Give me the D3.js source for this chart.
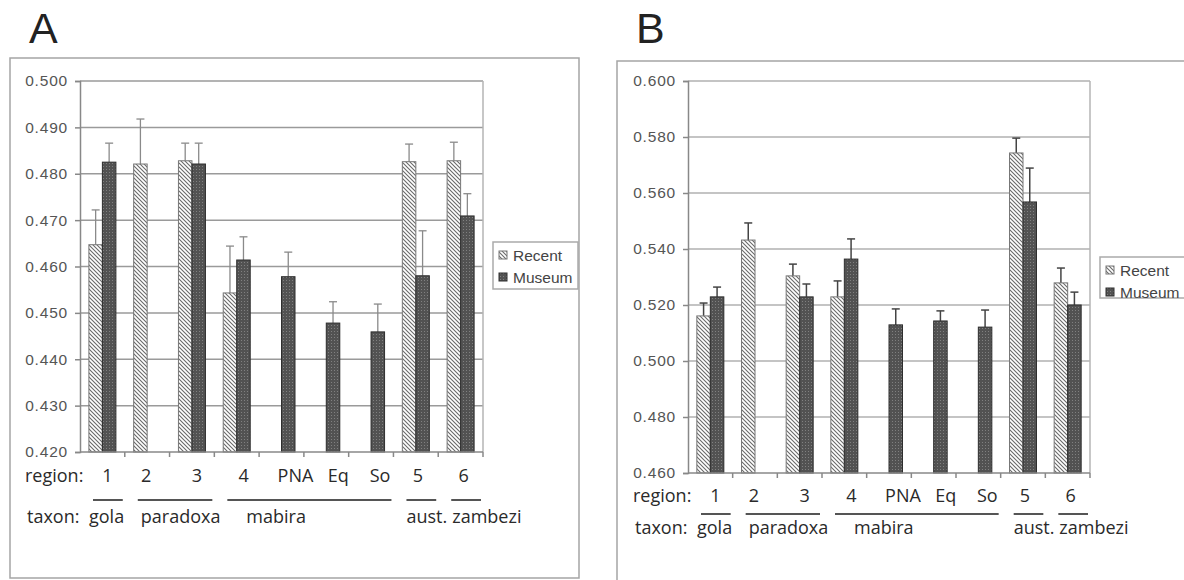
<!DOCTYPE html>
<html>
<head>
<meta charset="utf-8">
<script src="https://cdn.jsdelivr.net/npm/d3@7"></script>
<style>
  body { margin: 0; background: #fff; }
  svg { display: block; }
</style>
</head>
<body>
<svg id="fig" width="1184" height="580"></svg>
<script>
// ---- data ----
const categories = ["1", "2", "3", "4", "PNA", "Eq", "So", "5", "6"]
const series = ["Recent", "Museum"]
const taxa = [
  {name: "gola", from: "1", to: "1"},
  {name: "paradoxa", from: "2", to: "3"},
  {name: "mabira", from: "4", to: "So"},
  {name: "aust.", from: "5", to: "5"},
  {name: "zambezi", from: "6", to: "6"}
]

// panel A
const yTicksA = [0.420, 0.430, 0.440, 0.450, 0.460, 0.470, 0.480, 0.490, 0.500]
const recentA    = [0.4647, 0.4821, 0.4828, 0.4543, null, null, null, 0.4826, 0.4828]
const recentErrA = [0.0075, 0.0097, 0.0038, 0.0101, null, null, null, 0.0038, 0.0040]
const museumA    = [0.4825, null, 0.4821, 0.4614, 0.4578, 0.4478, 0.4459, 0.4580, 0.4709]
const museumErrA = [0.0041, null, 0.0045, 0.0050, 0.0053, 0.0046, 0.0060, 0.0097, 0.0048]

// panel B
const yTicksB = [0.460, 0.480, 0.500, 0.520, 0.540, 0.560, 0.580, 0.600]
const recentB    = [0.5161, 0.5432, 0.5304, 0.5229, null, null, null, 0.5743, 0.5279]
const recentErrB = [0.0046, 0.0061, 0.0042, 0.0057, null, null, null, 0.0053, 0.0053]
const museumB    = [0.5229, null, 0.5229, 0.5364, 0.5129, 0.5143, 0.5121, 0.5568, 0.5200]
const museumErrB = [0.0035, null, 0.0046, 0.0072, 0.0057, 0.0036, 0.0061, 0.0121, 0.0046]

// ---- layout ----
const LABEL_FONT = "'Open Sans', 'Noto Sans', sans-serif"
const AXIS_FONT = "'Liberation Sans', Arial, sans-serif"
const regionNudge = [5, -1, 5, 7, 14, 12, 9, 2, 3]   // hand-placed labels in the figure
const taxonNudge = {gola: 0, paradoxa: 7, mabira: 23, "aust.": 4, zambezi: 5}

const svg = d3.select("#fig")
const defs = svg.append("defs")

// hatched fill for Recent
const hatch = defs.append("pattern")
  .attr("id", "hatch")
  .attr("patternUnits", "userSpaceOnUse")
  .attr("width", 4).attr("height", 4)
hatch.append("rect").attr("width", 4).attr("height", 4).attr("fill", "#fff")
hatch.append("path")
  .attr("d", "M0,0 L4,4 M-1,3 L1,5 M3,-1 L5,1")
  .attr("stroke", "#6a6a6a").attr("stroke-width", 1.1)

// dotted dark fill for Museum
const dots = defs.append("pattern")
  .attr("id", "dots")
  .attr("patternUnits", "userSpaceOnUse")
  .attr("width", 3).attr("height", 3)
dots.append("rect").attr("width", 3).attr("height", 3).attr("fill", "#525252")
dots.append("rect").attr("x", 1).attr("y", 1).attr("width", 1).attr("height", 1).attr("fill", "#808080")

const fills = {Recent: "url(#hatch)", Museum: "url(#dots)"}
const outlines = {Recent: "#777", Museum: "#2e2e2e"}

function drawPanel(p) {
  const g = svg.append("g")

  // panel letter
  g.append("text")
    .attr("x", p.letterX).attr("y", 43)
    .attr("font-family", AXIS_FONT).attr("font-size", "43px")
    .attr("fill", "#222")
    .text(p.letter)

  // outer frame
  g.append("rect")
    .attr("x", p.frame[0]).attr("y", p.frame[1])
    .attr("width", p.frame[2] - p.frame[0]).attr("height", p.frame[3] - p.frame[1])
    .attr("fill", "none").attr("stroke", "#a5a5a5").attr("stroke-width", 1.5)

  const x = d3.scaleBand().domain(categories).range([p.left, p.right])
  const xs = d3.scaleBand().domain(series).range([0, 27])
  const off = (x.bandwidth() - 27) / 2
  const y = d3.scaleLinear().domain([p.ticks[0], p.ticks[p.ticks.length - 1]]).range([p.bottom, p.top])

  // gridlines
  g.append("g").selectAll("line")
    .data(p.ticks.slice(1))
    .join("line")
    .attr("x1", p.left).attr("x2", p.right)
    .attr("y1", d => y(d)).attr("y2", d => y(d))
    .attr("stroke", p.gridColor).attr("stroke-width", 1.5)

  // plot area right edge
  g.append("line")
    .attr("x1", p.right).attr("x2", p.right)
    .attr("y1", p.top).attr("y2", p.bottom)
    .attr("stroke", "#b5b5b5").attr("stroke-width", 1.5)

  // bars
  const rows = []
  categories.forEach((c, i) => {
    series.forEach(s => {
      const v = p.values[s][i]
      if (v == null) return
      rows.push({c, s, v, e: p.errors[s][i]})
    })
  })

  // error bars (upper only)
  const eb = g.append("g").selectAll("g").data(rows).join("g")
  eb.append("line")
    .attr("x1", d => x(d.c) + off + xs(d.s) + xs.bandwidth() / 2)
    .attr("x2", d => x(d.c) + off + xs(d.s) + xs.bandwidth() / 2)
    .attr("y1", d => y(d.v)).attr("y2", d => y(d.v + d.e))
    .attr("stroke", p.errColor).attr("stroke-width", p.errWidth)
  eb.append("line")
    .attr("x1", d => x(d.c) + off + xs(d.s) + xs.bandwidth() / 2 - 4)
    .attr("x2", d => x(d.c) + off + xs(d.s) + xs.bandwidth() / 2 + 4)
    .attr("y1", d => y(d.v + d.e)).attr("y2", d => y(d.v + d.e))
    .attr("stroke", p.errColor).attr("stroke-width", p.errWidth)

  g.append("g").selectAll("rect").data(rows).join("rect")
    .attr("x", d => x(d.c) + off + xs(d.s))
    .attr("y", d => y(d.v))
    .attr("width", xs.bandwidth())
    .attr("height", d => p.bottom - y(d.v))
    .attr("fill", d => fills[d.s])
    .attr("stroke", d => outlines[d.s]).attr("stroke-width", 1)

  // y axis
  const yAxis = d3.axisLeft(y).tickValues(p.ticks).tickFormat(d3.format(".3f")).tickSize(5).tickPadding(7)
  const ya = g.append("g")
    .attr("transform", `translate(${p.left},0)`)
    .call(yAxis)
  ya.select(".domain").attr("stroke", "#888").attr("stroke-width", 1.5)
  ya.selectAll(".tick line").attr("stroke", "#888").attr("stroke-width", 1.5)
  ya.selectAll(".tick text")
    .attr("font-family", AXIS_FONT).attr("font-size", "15.5px").attr("fill", "#555")
    .attr("letter-spacing", "0.8px")

  // x axis: ticks on category boundaries, no labels
  g.append("line")
    .attr("x1", p.left).attr("x2", p.right)
    .attr("y1", p.bottom).attr("y2", p.bottom)
    .attr("stroke", "#888").attr("stroke-width", 1.5)
  g.append("g").selectAll("line")
    .data(categories.slice(1).concat(["__end"]))
    .join("line")
    .attr("x1", d => d === "__end" ? p.right : x(d))
    .attr("x2", d => d === "__end" ? p.right : x(d))
    .attr("y1", p.bottom).attr("y2", p.bottom + 5)
    .attr("stroke", "#888").attr("stroke-width", 1.5)

  // region labels
  g.append("text")
    .attr("x", p.regionX).attr("y", p.regionY)
    .attr("font-family", LABEL_FONT).attr("font-size", "18px").attr("fill", "#2a2a2a")
    .text("region:")
  g.append("g").selectAll("text").data(categories).join("text")
    .attr("x", (d, i) => x(d) + x.bandwidth() / 2 + regionNudge[i])
    .attr("y", p.regionY)
    .attr("text-anchor", "middle")
    .attr("font-family", LABEL_FONT).attr("font-size", "18px").attr("fill", "#2a2a2a")
    .text(d => d)

  // taxon underlines and labels
  g.append("g").selectAll("line").data(taxa).join("line")
    .attr("x1", d => x(d.from) + 13)
    .attr("x2", d => x(d.to) + x.bandwidth() - 2)
    .attr("y1", p.lineY).attr("y2", p.lineY)
    .attr("stroke", "#555").attr("stroke-width", 2)
  g.append("text")
    .attr("x", p.taxonX).attr("y", p.taxonY)
    .attr("font-family", LABEL_FONT).attr("font-size", "18px").attr("fill", "#2a2a2a")
    .text("taxon:")
  g.append("g").selectAll("text").data(taxa).join("text")
    .attr("x", d => x(d.from) + 9 + taxonNudge[d.name])
    .attr("y", p.taxonY)
    .attr("font-family", LABEL_FONT).attr("font-size", "18px").attr("fill", "#2a2a2a")
    .text(d => d.name)

  // legend
  const lg = g.append("g").attr("transform", `translate(${p.legend[0]},${p.legend[1]})`)
  lg.append("rect")
    .attr("width", p.legend[2]).attr("height", p.legend[3])
    .attr("fill", "#fff").attr("stroke", "#aaa").attr("stroke-width", 1.5)
  series.forEach((s, i) => {
    const cy = 13 + i * 22
    lg.append("rect")
      .attr("x", 6).attr("y", cy - 4).attr("width", 8).attr("height", 8)
      .attr("fill", fills[s]).attr("stroke", outlines[s])
    lg.append("text")
      .attr("x", 20).attr("y", cy)
      .attr("dy", "0.36em")
      .attr("font-family", AXIS_FONT).attr("font-size", "15.5px").attr("fill", "#444")
      .text(s)
  })
}

drawPanel({
  letter: "A", letterX: 29,
  frame: [10, 58, 579, 578],
  left: 80, right: 483, top: 81, bottom: 452,
  ticks: yTicksA,
  values: {Recent: recentA, Museum: museumA},
  errors: {Recent: recentErrA, Museum: museumErrA},
  gridColor: "#9a9a9a", errColor: "#8a8a8a", errWidth: 1.3,
  regionX: 25, regionY: 482, lineY: 500, taxonX: 27, taxonY: 523,
  legend: [493, 242, 85, 47]
})

drawPanel({
  letter: "B", letterX: 636,
  frame: [617, 61, 1200, 600],
  left: 688, right: 1090, top: 81, bottom: 473,
  ticks: yTicksB,
  values: {Recent: recentB, Museum: museumB},
  errors: {Recent: recentErrB, Museum: museumErrB},
  gridColor: "#b0b0b0", errColor: "#444", errWidth: 1.5,
  regionX: 633, regionY: 502, lineY: 514, taxonX: 635, taxonY: 534,
  legend: [1100, 257, 100, 41]
})
</script>
</body>
</html>
